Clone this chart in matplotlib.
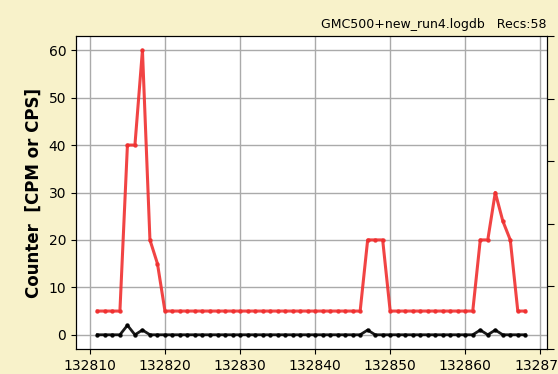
import matplotlib
matplotlib.use("Agg")
import matplotlib.pyplot as plt
import numpy as np

x_start = 132811
cpm = [5, 5, 5, 5, 40, 40, 60, 20, 15,
       5, 5, 5, 5, 5, 5, 5, 5, 5, 5, 5, 5, 5, 5, 5, 5, 5, 5, 5, 5, 5, 5, 5, 5, 5, 5, 5,
       20, 20, 20,
       5, 5, 5, 5, 5, 5, 5, 5, 5, 5, 5, 5,
       20, 20, 30, 24, 20, 5, 5]
cps = [0, 0, 0, 0, 2, 0, 1, 0, 0,
       0, 0, 0, 0, 0, 0, 0, 0, 0, 0, 0, 0, 0, 0, 0, 0, 0, 0, 0, 0, 0, 0, 0, 0, 0, 0, 0,
       1, 0, 0,
       0, 0, 0, 0, 0, 0, 0, 0, 0, 0, 0, 0,
       1, 0, 1, 0, 0, 0, 0]
x = np.arange(x_start, x_start + len(cpm))

title = "GMC500+new_run4.logdb   Recs:58"
ylabel = "Counter  [CPM or CPS]"

bg = "#F8F2CA"
fig = plt.figure(figsize=(5.58, 3.74), dpi=100, facecolor=bg)
ax = fig.add_axes([76/558, 1-349/374, (546.7-76)/558, (349-36)/374])
ax.set_facecolor("white")
ax.plot(x, cpm, color="#F03030", lw=2.2, marker="o", ms=2.2, alpha=0.9, zorder=3)
ax.plot(x, cps, color="black", lw=2.0, marker="o", ms=2.2, alpha=0.9, zorder=3)
ax.grid(True, color="#AAAAAA", lw=1)
ax.set_axisbelow(True)
ax.set_ylim(-3, 63)
ax.set_xlim(132808.15, 132870.85)
ax.set_xticks([132810, 132820, 132830, 132840, 132850, 132860, 132870])
ax.xaxis.set_major_formatter(matplotlib.ticker.FuncFormatter(lambda v, p: f"{int(v)}"))
ax.tick_params(labelsize=10)
ax.set_ylabel(ylabel, fontsize=12, fontweight="bold")
ax.set_title(title, loc="right", fontsize=9)

ax2 = ax.twinx()
ax2.set_ylim(0, 1)
ax2.set_yticks([0, 0.2, 0.4, 0.6, 0.8, 1.0])
ax2.tick_params(labelright=False, length=5)

fig.savefig("out.png", dpi=100, facecolor=bg)
